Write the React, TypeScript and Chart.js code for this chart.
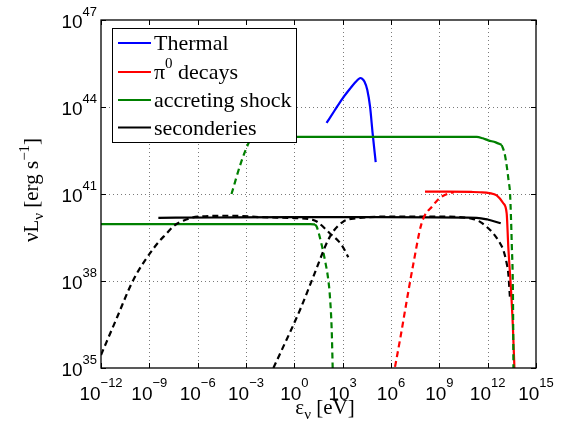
import React, { useEffect, useRef } from "react";
import { Chart, registerables } from "chart.js";

Chart.register(...registerables);

// ---- data: values (log10 of energy in eV, log10 of luminosity in erg/s)
const thermalLogE = [2.0, 2.5, 3.0, 3.5, 3.8, 4.0, 4.1, 4.2, 4.35, 4.53, 4.7, 4.86, 5.05];
const thermalLogL = [43.45, 43.88, 44.3, 44.66, 44.86, 44.97, 45.0, 44.98, 44.88, 44.59, 44.01, 43.09, 42.1];

const pionLogE = [8.11, 9.5, 11.0, 11.53, 12.1, 12.56, 12.97, 13.18, 13.28, 13.45, 13.56, 13.66];
const pionLogL = [41.08, 41.08, 41.07, 41.06, 41.03, 40.95, 40.68, 40.33, 39.18, 37.69, 36.5, 35.0];
const pionDashLogE = [6.25, 6.6, 6.97, 7.39, 7.9, 8.63, 9.0, 9.57, 9.9];
const pionDashLogL = [35.04, 36.1, 37.3, 38.6, 39.99, 40.62, 40.85, 41.02, 41.06];

const shockHiLogE = [-2.6, 5.0, 11.32, 11.7, 12.04, 12.5, 12.87];
const shockHiLogL = [42.97, 42.97, 42.97, 42.92, 42.85, 42.78, 42.69];
const shockHiRiseLogE = [-3.9, -3.3, -2.8, -2.6];
const shockHiRiseLogL = [41.0, 42.1, 42.8, 42.97];
const shockHiFallLogE = [12.87, 13.05, 13.2, 13.3, 13.39, 13.5, 13.57, 13.6];
const shockHiFallLogL = [42.69, 42.4, 41.9, 41.45, 41.0, 39.2, 37.5, 35.0];
const shockLoLogE = [-12.0, 1.0, 1.28];
const shockLoLogL = [39.96, 39.96, 39.95];
const shockLoFallLogE = [1.28, 1.39, 1.7, 1.9, 2.11, 2.21, 2.32, 2.38];
const shockLoFallLogL = [39.95, 39.87, 39.24, 38.72, 38.03, 37.46, 36.31, 35.0];

const secLogE = [-8.44, -5, 0, 5, 11.32, 12.0, 12.81];
const secLogL = [40.18, 40.19, 40.2, 40.2, 40.18, 40.12, 39.99];
const secDashALogE = [-12.0, -11.0, -10.0, -8.65, -8.0, -7.41, -6.89, -6.0, -4.0, -2.0, 0.0, 1.0, 1.39, 2.21, 2.94, 3.35];
const secDashALogL = [35.45, 36.75, 38.03, 39.19, 39.6, 39.93, 40.08, 40.22, 40.25, 40.2, 40.17, 40.13, 40.05, 39.64, 39.24, 38.82];
const secDashBLogE = [-1.3, -0.78, 0.35, 1.18, 2.21, 3.04, 3.87, 6.0, 9.0, 11.0, 11.53, 11.93, 12.35, 12.77, 12.97, 13.18, 13.28, 13.38];
const secDashBLogL = [35.0, 35.62, 37.0, 38.15, 39.53, 40.05, 40.16, 40.22, 40.22, 40.15, 40.04, 39.87, 39.64, 39.3, 39.07, 38.61, 38.27, 37.46];

const X_TICK_EXPS = [-12, -9, -6, -3, 0, 3, 6, 9, 12, 15];
const Y_TICK_EXPS = [35, 38, 41, 44, 47];
const X_MIN_EXP = -12, X_MAX_EXP = 15, Y_MIN_EXP = 35, Y_MAX_EXP = 47;

// legend labels: "^" marks a superscript part
const legendLabels = [["Thermal"], ["π", "^0", " decays"], ["accreting shock"], ["seconderies"]];
const legendColors = ["#0000ff", "#ff0000", "#008000", "#000000"];

const BLUE = "#0000ff", RED = "#ff0000", GREEN = "#008000", BLACK = "#000000";

function pts(le: number[], ll: number[]) {
  return le.map((e, i) => ({ x: Math.pow(10, e), y: Math.pow(10, ll[i]) }));
}

const SANS = "'Liberation Sans', Arial, sans-serif";
const SERIF = "'Liberation Serif', 'Times New Roman', serif";

type Part = { t: string; font: string; dy: number };

function richWidth(ctx: CanvasRenderingContext2D, parts: Part[]) {
  let w = 0;
  for (const p of parts) { ctx.font = p.font; w += ctx.measureText(p.t).width; }
  return w;
}
function drawRich(ctx: CanvasRenderingContext2D, parts: Part[], x: number, y: number) {
  let cx = x;
  for (const p of parts) {
    ctx.font = p.font;
    ctx.fillText(p.t, cx, y + p.dy);
    cx += ctx.measureText(p.t).width;
  }
}
const expStr = (e: number) => (e < 0 ? "\u2212" + Math.abs(e) : String(e));

const decor = {
  id: "decor",
  beforeDatasetsDraw(chart: any) {
    const { ctx, chartArea, scales } = chart;
    const { left, right, top, bottom } = chartArea;
    ctx.save();
    ctx.strokeStyle = "#7a7a7a";
    ctx.lineWidth = 1;
    ctx.setLineDash([1, 3]);
    for (const e of X_TICK_EXPS) {
      const px = Math.round(scales.x.getPixelForValue(Math.pow(10, e))) + 0.5;
      if (px <= left + 2 || px >= right - 2) continue;
      ctx.beginPath(); ctx.moveTo(px, top); ctx.lineTo(px, bottom); ctx.stroke();
    }
    for (const e of Y_TICK_EXPS) {
      const py = Math.round(scales.y.getPixelForValue(Math.pow(10, e))) + 0.5;
      if (py <= top + 2 || py >= bottom - 2) continue;
      ctx.beginPath(); ctx.moveTo(left, py); ctx.lineTo(right, py); ctx.stroke();
    }
    ctx.restore();
  },
  afterDatasetsDraw(chart: any) {
    const { ctx, chartArea, scales } = chart;
    const { left, right, top, bottom } = chartArea;
    ctx.save();
    ctx.setLineDash([]);
    // box
    ctx.strokeStyle = "#000";
    ctx.lineWidth = 1.3;
    ctx.strokeRect(left, top, right - left, bottom - top);
    // inward ticks
    ctx.lineWidth = 1;
    const tl = 5;
    for (const e of X_TICK_EXPS) {
      const px = Math.round(scales.x.getPixelForValue(Math.pow(10, e))) + 0.5;
      ctx.beginPath();
      ctx.moveTo(px, bottom); ctx.lineTo(px, bottom - tl);
      ctx.moveTo(px, top); ctx.lineTo(px, top + tl);
      ctx.stroke();
    }
    for (const e of Y_TICK_EXPS) {
      const py = Math.round(scales.y.getPixelForValue(Math.pow(10, e))) + 0.5;
      ctx.beginPath();
      ctx.moveTo(left, py); ctx.lineTo(left + tl, py);
      ctx.moveTo(right, py); ctx.lineTo(right - tl, py);
      ctx.stroke();
    }
    // tick labels
    ctx.fillStyle = "#000";
    ctx.textBaseline = "alphabetic";
    ctx.textAlign = "left";
    const baseFont = `19px ${SANS}`;
    const supFont = `13px ${SANS}`;
    for (const e of X_TICK_EXPS) {
      const px = scales.x.getPixelForValue(Math.pow(10, e));
      const parts: Part[] = [
        { t: "10", font: baseFont, dy: 0 },
        { t: expStr(e), font: supFont, dy: -13 },
      ];
      const w = richWidth(ctx, parts);
      drawRich(ctx, parts, px - w / 2, bottom + 32);
    }
    for (const e of Y_TICK_EXPS) {
      const py = scales.y.getPixelForValue(Math.pow(10, e));
      const parts: Part[] = [
        { t: "10", font: baseFont, dy: 0 },
        { t: expStr(e), font: supFont, dy: -12 },
      ];
      const w = richWidth(ctx, parts);
      drawRich(ctx, parts, left - 4 - w, py + 8);
    }
    // x title
    const tFont = `21px ${SERIF}`;
    const tSub = `15px ${SERIF}`;
    const xParts: Part[] = [
      { t: "ε", font: tFont, dy: 0 },
      { t: "ν", font: tSub, dy: 5 },
      { t: " [eV]", font: tFont, dy: 0 },
    ];
    const xw = richWidth(ctx, xParts);
    drawRich(ctx, xParts, 325 - xw / 2, 414);
    // y title (rotated)
    const yParts: Part[] = [
      { t: "νL", font: tFont, dy: 0 },
      { t: "ν", font: tSub, dy: 5 },
      { t: " [erg s", font: tFont, dy: 0 },
      { t: "\u22121", font: tSub, dy: -9 },
      { t: "]", font: tFont, dy: 0 },
    ];
    const yw = richWidth(ctx, yParts);
    ctx.save();
    ctx.translate(38, 190);
    ctx.rotate(-Math.PI / 2);
    drawRich(ctx, yParts, -yw / 2, 0);
    ctx.restore();
    // legend
    const lx = 112, ly = 28, lw = 184, lh = 114;
    ctx.fillStyle = "#fff";
    ctx.fillRect(lx, ly, lw, lh);
    ctx.strokeStyle = "#000";
    ctx.lineWidth = 1;
    ctx.strokeRect(lx + 0.5, ly + 0.5, lw, lh);
    const rowY = [43, 72, 100, 127.5];
    const lFont = `22px ${SERIF}`;
    const lSup = `15px ${SERIF}`;
    legendLabels.forEach((lab, i) => {
      ctx.strokeStyle = legendColors[i];
      ctx.lineWidth = 2;
      ctx.beginPath();
      ctx.moveTo(118, rowY[i]); ctx.lineTo(151, rowY[i]);
      ctx.stroke();
      ctx.fillStyle = "#000";
      const parts: Part[] = lab.map((s) =>
        s.startsWith("^") ? { t: s.slice(1), font: lSup, dy: -11 } : { t: s, font: lFont, dy: 0 }
      );
      drawRich(ctx, parts, 154, rowY[i] + 7);
    });
    ctx.restore();
  },
};

function line(data: any[], color: string, dashed: boolean) {
  return {
    data,
    borderColor: color,
    backgroundColor: color,
    borderWidth: 2.2,
    borderDash: dashed ? [6, 4] : [],
    pointRadius: 0,
    cubicInterpolationMode: "monotone",
    fill: false,
  };
}

export default function App() {
  const ref = useRef<HTMLCanvasElement>(null);
  useEffect(() => {
    if (!ref.current) return;
    const chart = new Chart(ref.current, {
      type: "line",
      data: {
        datasets: [
          line(pts(shockHiFallLogE, shockHiFallLogL), GREEN, true),
          line(pts(pionLogE, pionLogL), RED, false),
          line(pts(pionDashLogE, pionDashLogL), RED, true),
          line(pts(secDashBLogE, secDashBLogL), BLACK, true),
          line(pts(secDashALogE, secDashALogL), BLACK, true),
          line(pts(secLogE, secLogL), BLACK, false),
          line(pts(shockLoFallLogE, shockLoFallLogL), GREEN, true),
          line(pts(shockLoLogE, shockLoLogL), GREEN, false),
          line(pts(shockHiRiseLogE, shockHiRiseLogL), GREEN, true),
          line(pts(shockHiLogE, shockHiLogL), GREEN, false),
          line(pts(thermalLogE, thermalLogL), BLUE, false),
        ] as any,
      },
      options: {
        animation: false,
        responsive: false,
        devicePixelRatio: 1,
        layout: { padding: { left: 101, top: 20, right: 30, bottom: 62 } },
        plugins: { legend: { display: false }, tooltip: { enabled: false } },
        scales: {
          x: { type: "logarithmic", display: false, min: Math.pow(10, X_MIN_EXP), max: Math.pow(10, X_MAX_EXP) },
          y: { type: "logarithmic", display: false, min: Math.pow(10, Y_MIN_EXP), max: Math.pow(10, Y_MAX_EXP) },
        },
      } as any,
      plugins: [decor],
    });
    return () => chart.destroy();
  }, []);
  return (
    <div style={{ position: "fixed", left: 0, top: 0, width: 566, height: 430, background: "#fff" }}>
      <canvas ref={ref} width={566} height={430} style={{ display: "block" }} />
    </div>
  );
}
